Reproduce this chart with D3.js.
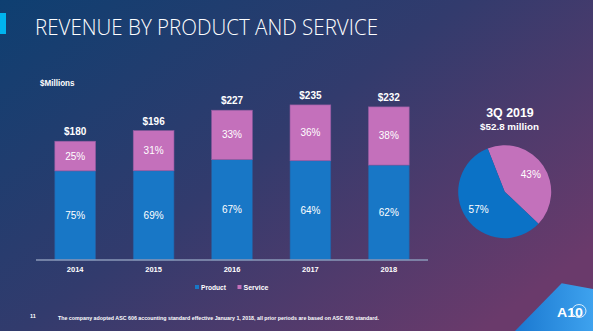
<!DOCTYPE html>
<html>
<head>
<meta charset="utf-8">
<script src="https://cdn.jsdelivr.net/npm/d3@7"></script>
<style>
  html, body { margin: 0; padding: 0; background: #1a3c6f; }
  svg { display: block; }
</style>
</head>
<body>
<div id="chart"></div>
<script>
// chart data
const years = ["2014", "2015", "2016", "2017", "2018"];
const totals = [180, 196, 227, 235, 232];
const productPct = [75, 69, 67, 64, 62];
const servicePct = [25, 31, 33, 36, 38];
const pieLabels = ["Service", "Product"];
const piePct = [43, 57];

const width = 593, height = 331;
const colors = { Product: "#1877c6", Service: "#c470bb" };

const svg = d3.select("#chart").append("svg")
    .attr("width", width)
    .attr("height", height);

// background gradient
const defs = svg.append("defs");
const bg = defs.append("linearGradient").attr("id", "bg")
    .attr("x1", 0).attr("y1", 0).attr("x2", 1).attr("y2", 0.75);
bg.append("stop").attr("offset", 0).attr("stop-color", "#0e3f71");
bg.append("stop").attr("offset", 0.5).attr("stop-color", "#323b6d");
bg.append("stop").attr("offset", 1).attr("stop-color", "#6a3a6b");

const logoGrad = defs.append("linearGradient").attr("id", "logo")
    .attr("x1", 0).attr("y1", 0).attr("x2", 1).attr("y2", 0);
logoGrad.append("stop").attr("offset", 0).attr("stop-color", "#1a78d0");
logoGrad.append("stop").attr("offset", 1).attr("stop-color", "#3ea2ee");

svg.append("rect").attr("width", width).attr("height", height).attr("fill", "url(#bg)");

// title + accent
svg.append("rect").attr("x", 0).attr("y", 13).attr("width", 6).attr("height", 21).attr("fill", "#00b4ef");
svg.append("text")
    .attr("x", 35).attr("y", 35)
    .attr("font-family", "'Open Sans', sans-serif")
    .attr("font-weight", 300)
    .attr("font-size", 21.5)
    .attr("textLength", 343)
    .attr("lengthAdjust", "spacingAndGlyphs")
    .attr("fill", "#ffffff")
    .text("REVENUE BY PRODUCT AND SERVICE");

const labelFont = "'Liberation Sans', Arial, sans-serif";

svg.append("text")
    .attr("x", 40).attr("y", 86)
    .attr("font-family", labelFont)
    .attr("font-weight", "bold")
    .attr("font-size", 9.5)
    .attr("textLength", 34.5)
    .attr("lengthAdjust", "spacingAndGlyphs")
    .attr("fill", "#ffffff")
    .text("$Millions");

// scales
const x = d3.scaleBand()
    .domain(years)
    .range([36, 428])
    .paddingInner(0.48)
    .paddingOuter(0.24);

const y = d3.scaleLinear()
    .domain([0, 250])
    .range([260, 95]);

const rows = years.map((yr, i) => {
    const prod = totals[i] * productPct[i] / 100;
    return { year: yr, total: totals[i], prod: prod, pp: productPct[i], sp: servicePct[i] };
});

const bars = svg.append("g").attr("class", "bars");

// product segment
bars.selectAll("rect.product")
    .data(rows)
    .enter().append("rect")
    .attr("class", "product")
    .attr("x", d => x(d.year))
    .attr("width", x.bandwidth())
    .attr("y", d => y(d.prod))
    .attr("height", d => y(0) - y(d.prod))
    .attr("fill", colors.Product)
    .attr("stroke", "#2a5d9e")
    .attr("stroke-width", 0.6);

// service segment
bars.selectAll("rect.service")
    .data(rows)
    .enter().append("rect")
    .attr("class", "service")
    .attr("x", d => x(d.year))
    .attr("width", x.bandwidth())
    .attr("y", d => y(d.total))
    .attr("height", d => y(d.prod) - y(d.total))
    .attr("fill", colors.Service)
    .attr("stroke", "#8f5a9f")
    .attr("stroke-width", 0.6);

// percent labels
bars.selectAll("text.pp")
    .data(rows)
    .enter().append("text")
    .attr("x", d => x(d.year) + x.bandwidth() / 2)
    .attr("y", d => (y(0) + y(d.prod)) / 2 + 3.5)
    .attr("text-anchor", "middle")
    .attr("font-family", labelFont)
    .attr("font-size", 10)
    .attr("fill", "#ffffff")
    .text(d => d.pp + "%");

bars.selectAll("text.sp")
    .data(rows)
    .enter().append("text")
    .attr("x", d => x(d.year) + x.bandwidth() / 2)
    .attr("y", d => (y(d.prod) + y(d.total)) / 2 + 3.5)
    .attr("text-anchor", "middle")
    .attr("font-family", labelFont)
    .attr("font-size", 10)
    .attr("fill", "#ffffff")
    .text(d => d.sp + "%");

// totals
bars.selectAll("text.total")
    .data(rows)
    .enter().append("text")
    .attr("x", d => x(d.year) + x.bandwidth() / 2)
    .attr("y", d => y(d.total) - 6)
    .attr("text-anchor", "middle")
    .attr("font-family", labelFont)
    .attr("font-weight", "bold")
    .attr("font-size", 10)
    .attr("fill", "#ffffff")
    .text(d => "$" + d.total);

// x axis
const xAxis = svg.append("g")
    .attr("transform", `translate(0,${y(0)})`)
    .call(d3.axisBottom(x).tickSize(0).tickPadding(7));
xAxis.select(".domain")
    .attr("d", "M36,0H428")
    .attr("stroke", "#8a98b8")
    .attr("stroke-width", 1.5);
xAxis.selectAll("text")
    .attr("font-family", labelFont)
    .attr("font-weight", "bold")
    .attr("font-size", 7.5)
    .attr("fill", "#ffffff");

// legend
const legend = svg.append("g").attr("transform", "translate(195,287)");
const legendItems = [{ k: "Product", dx: 0 }, { k: "Service", dx: 42.5 }];
const li = legend.selectAll("g").data(legendItems).enter().append("g")
    .attr("transform", d => `translate(${d.dx},0)`);
li.append("rect").attr("x", 0).attr("y", -2).attr("width", 4).attr("height", 4)
    .attr("fill", d => colors[d.k]);
li.append("text").attr("x", 6).attr("y", 2.8)
    .attr("font-family", labelFont)
    .attr("font-weight", "bold")
    .attr("font-size", 7.5)
    .attr("textLength", 25)
    .attr("lengthAdjust", "spacingAndGlyphs")
    .attr("fill", "#ffffff")
    .text(d => d.k);

// pie
const pieG = svg.append("g").attr("transform", "translate(504.7,191.7)");
const start = -0.374;
const pie = d3.pie().sort(null).startAngle(start).endAngle(start + 2 * Math.PI);
const arcs = pie(piePct);
const arc = d3.arc().innerRadius(0).outerRadius(46.5);
const labelArc = d3.arc().innerRadius(31.5).outerRadius(31.5);
const pieColors = ["#c371bb", "#0b72c6"];

pieG.selectAll("path").data(arcs).enter().append("path")
    .attr("d", arc)
    .attr("fill", (d, i) => pieColors[i]);

pieG.selectAll("text").data(arcs).enter().append("text")
    .attr("transform", d => `translate(${labelArc.centroid(d)})`)
    .attr("dy", 3.5)
    .attr("text-anchor", "middle")
    .attr("font-family", labelFont)
    .attr("font-size", 10)
    .attr("fill", "#ffffff")
    .text(d => d.data + "%");

svg.append("text")
    .attr("x", 510).attr("y", 116.5)
    .attr("text-anchor", "middle")
    .attr("font-family", labelFont)
    .attr("font-weight", "bold")
    .attr("font-size", 12.4)
    .attr("fill", "#ffffff")
    .text("3Q 2019");

svg.append("text")
    .attr("x", 509.5).attr("y", 129.5)
    .attr("text-anchor", "middle")
    .attr("font-family", labelFont)
    .attr("font-weight", "bold")
    .attr("font-size", 9.8)
    .attr("fill", "#ffffff")
    .text("$52.8 million");

// footer
svg.append("text")
    .attr("x", 30).attr("y", 317.5)
    .attr("font-family", labelFont)
    .attr("font-weight", "bold")
    .attr("font-size", 5.5)
    .attr("fill", "#ffffff")
    .text("11");

svg.append("text")
    .attr("x", 58).attr("y", 320)
    .attr("font-family", labelFont)
    .attr("font-weight", "bold")
    .attr("font-size", 5.5)
    .attr("textLength", 321)
    .attr("lengthAdjust", "spacingAndGlyphs")
    .attr("fill", "#ffffff")
    .text("The company adopted ASC 606 accounting standard effective January 1, 2018, all prior periods are based on ASC 605 standard.");

// logo corner
svg.append("path")
    .attr("d", "M561.7,283.3L593,289V331H515Z")
    .attr("fill", "url(#logo)");
svg.append("text")
    .attr("x", 557).attr("y", 316.5)
    .attr("font-family", labelFont)
    .attr("font-weight", "bold")
    .attr("font-size", 12)
    .attr("textLength", 26)
    .attr("lengthAdjust", "spacingAndGlyphs")
    .attr("fill", "#ffffff")
    .text("A10");
svg.append("ellipse")
    .attr("cx", 579).attr("cy", 311)
    .attr("rx", 7).attr("ry", 6.5)
    .attr("fill", "none")
    .attr("stroke", "#ffffff")
    .attr("stroke-width", 0.8);
</script>
</body>
</html>
